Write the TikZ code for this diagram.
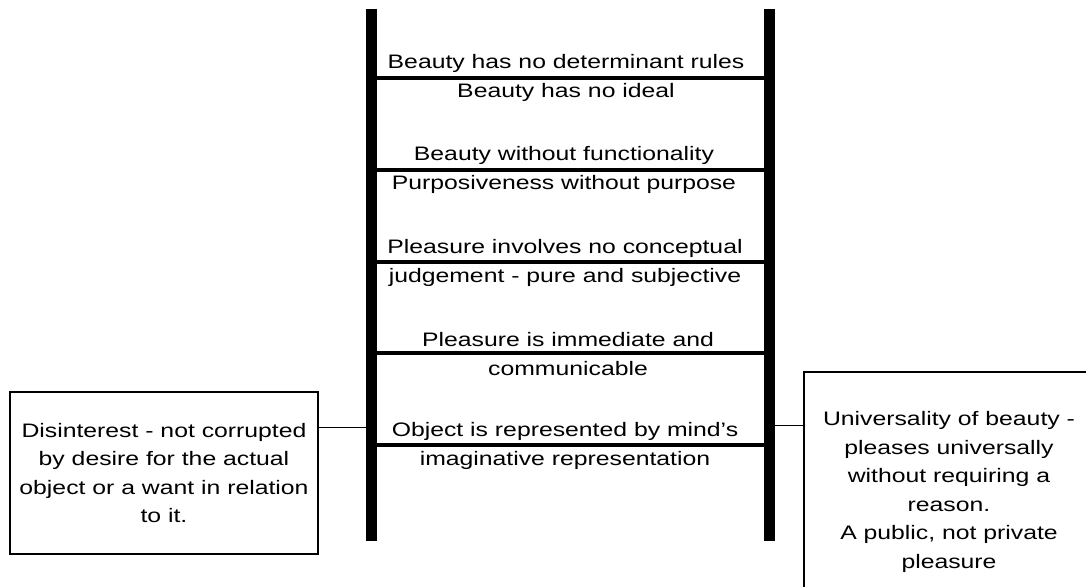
\documentclass[tikz,border=0pt]{standalone}
\usepackage{fontspec}
\setmainfont{Liberation Sans}
\newfontfamily\widesans[FakeStretch=1.27]{Liberation Sans}
\usetikzlibrary{positioning}
\tikzstyle{rail} = [line width=11pt]
\tikzstyle{rung} = [line width=4pt]
\tikzstyle{link} = [line width=1pt]
\tikzstyle{box} = [draw, line width=2pt, inner sep=0pt]

\begin{document}
\begin{tikzpicture}
    [x=1pt,y=-1pt,every node/.style={align=center,
    font=\widesans\fontsize{19.5pt}{28.5pt}\selectfont}]
    \useasboundingbox (0,0) rectangle (1086,586);
    % the ladder
    \coordinate (l1) at (371.5,9);
    \coordinate (l2) at (371.5,541);
    \coordinate (r1) at (769,9);
    \coordinate (r2) at (769,541);
    \draw[rail] (l1) -- (l2);
    \draw[rail] (r1) -- (r2);
    \foreach \y [count=\i] in {78,170,262,353,445}{
    \coordinate (ra\i) at (371.5,\y);
    \coordinate (rb\i) at (769,\y);
    \draw[rung] (ra\i) -- (rb\i);
    }
    \node (t1) at (566,78) {Beauty has no determinant rules\\Beauty has no ideal};
    \node (t2) at (564,170) {Beauty without functionality\\Purposiveness without purpose};
    \node (t3) at (565,263) {Pleasure involves no conceptual\\judgement - pure and subjective};
    \node (t4) at (568,354) {Pleasure is immediate and\\communicable};
    \node (t5) at (565,446) {Object is represented by mind’s\\imaginative representation};
    % the two sides
    \node[box, minimum width=308pt, minimum height=162pt] (dis) at (164,473)
    {Disinterest - not corrupted\\by desire for the actual\\object or a want in relation\\to it.};
    \node[box, minimum width=290pt, minimum height=240pt] (uni) at (949,492)
    {Universality of beauty -\\pleases universally\\without requiring a\\reason.\\A public, not private\\pleasure};
    \coordinate (jl) at (371.5,427);
    \coordinate (jr) at (769,425);
    \draw[link] (dis.east |- jl) -- (jl);
    \draw[link] (jr) -- (uni.west |- jr);
\end{tikzpicture}
\end{document}
